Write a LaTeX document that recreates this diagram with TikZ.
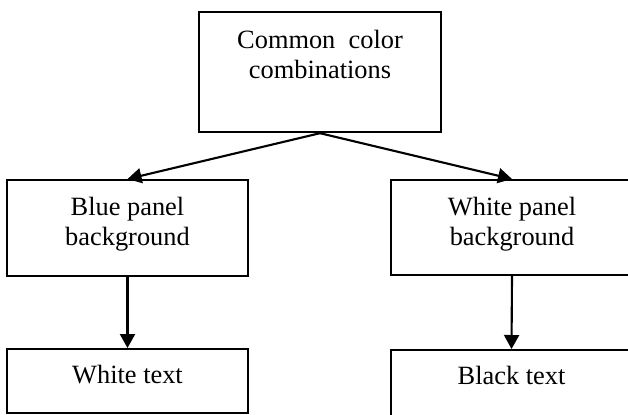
\documentclass[tikz,border=0pt]{standalone}
\usepackage{fontspec}
\setmainfont{Liberation Serif}
\usetikzlibrary{arrows.meta}

\tikzset{
  box/.style={draw,line width=0.6pt,minimum width=2.41cm,inner xsep=2pt,inner ysep=0pt,
    align=center,anchor=north,text height=0.65cm},
  link/.style={-{Triangle[length=1.4mm,width=1.5mm]},line width=0.6pt}
}

\begin{document}
\begin{tikzpicture}[x=0.01cm,y=-0.01cm,font=\fontsize{7.5}{8.4}\selectfont]
  \useasboundingbox (0,0) rectangle (628,414);
  % top of the tree
  \node[box,text height=0.66cm,text depth=0.54cm] (comb) at (320,11) {Common\ \ color\\combinations};
  % the two panel colours
  \node[box,text depth=0.31cm] (blue) at (127.5,179) {Blue panel\\background};
  \node[box,text depth=0.30cm] (white) at (512,179) {White panel\\background};
  % text colour for each
  \node[box,text height=0.34cm,text depth=0.30cm] (wtext) at (127.5,348) {White text};
  \node[box,text height=0.34cm,text depth=0.34cm] (btext) at (511.5,349) {Black text};
  \draw[link] (comb.south) -- (blue.north);
  \draw[link] (comb.south) -- (white.north);
  \draw[link] (blue.south) -- (wtext.north);
  \draw[link] (white.south) -- (btext.north);
\end{tikzpicture}
\end{document}
